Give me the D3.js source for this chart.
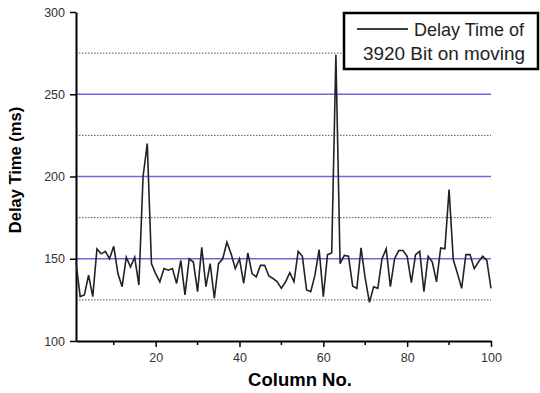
<!DOCTYPE html>
<html>
<head>
<meta charset="utf-8">
<script src="https://cdn.jsdelivr.net/npm/d3@7"></script>
<style>
  body { margin: 0; background: #fff; }
  svg { display: block; font-family: "Liberation Sans", Arial, sans-serif; }
</style>
</head>
<body>
<div id="chart"></div>
<script>
// delay time (ms) for columns 1..100
var delays = [
  148, 127, 128, 140, 127, 156, 153, 154.5, 150, 157.6,
  141, 133, 151, 145, 151, 134, 200, 220, 147, 141,
  136, 144, 143, 144, 135, 149, 128, 150, 148, 130,
  157, 133, 147, 126, 147, 150, 160, 153, 144, 150,
  135, 153.5, 141, 139, 146, 146, 139.5, 138, 136, 132,
  136, 141.5, 136, 154.5, 151.5, 131, 130, 140, 155.5, 127,
  152.5, 153.5, 274, 147, 152, 151.5, 133.5, 132, 156.6, 138,
  123.5, 133, 132, 150, 156, 133, 150, 155, 155, 151.5,
  135.5, 152.5, 154.5, 130, 151.5, 148, 136, 156.6, 156, 192,
  149.4, 141, 132, 152.5, 152.5, 144, 148, 151.5, 149, 132
];
var columns = d3.range(1, delays.length + 1);

var yTicks = [100, 150, 200, 250, 300];
var xTicks = [20, 40, 60, 80, 100];
var xMinor = [10, 30, 50, 70, 90];
var solidGrid = [150, 200, 250];
var dottedGrid = [125, 175, 225, 275];

var legendLines = ["Delay Time of", "3920 Bit on moving"];
var xTitle = "Column No.";
var yTitle = "Delay Time (ms)";

var width = 540, height = 393;
var plotL = 76, plotR = 491, plotT = 12, plotB = 341;

var svg = d3.select("#chart").append("svg")
    .attr("width", width)
    .attr("height", height);

var x = d3.scaleLinear().domain([1, 100]).range([plotL, plotR]);
var y = d3.scaleLinear().domain([100, 300]).range([plotB, plotT]);

// grid lines
svg.append("g").selectAll("line")
    .data(dottedGrid)
    .enter().append("line")
    .attr("x1", plotL).attr("x2", plotR)
    .attr("y1", y).attr("y2", y)
    .attr("stroke", "#555")
    .attr("stroke-width", 1)
    .attr("stroke-dasharray", "1.5,1.5");

svg.append("g").selectAll("line")
    .data(solidGrid)
    .enter().append("line")
    .attr("x1", plotL).attr("x2", plotR)
    .attr("y1", y).attr("y2", y)
    .attr("stroke", "#6a6ae0")
    .attr("stroke-width", 1.3);

// axes
var xAxis = svg.append("g")
    .attr("transform", "translate(0," + plotB + ")")
    .call(d3.axisBottom(x).tickValues(xTicks).tickSize(6).tickSizeOuter(0).tickPadding(6));

svg.append("g")
    .attr("transform", "translate(0," + plotB + ")")
    .selectAll("line")
    .data(xMinor)
    .enter().append("line")
    .attr("x1", x).attr("x2", x)
    .attr("y1", 0).attr("y2", 4)
    .attr("stroke", "#000")
    .attr("stroke-width", 1.5);

var yAxis = svg.append("g")
    .attr("transform", "translate(" + plotL + ",0)")
    .call(d3.axisLeft(y).tickValues(yTicks).tickSize(6).tickSizeOuter(0).tickPadding(5));

[xAxis, yAxis].forEach(function(g) {
    g.select(".domain").attr("stroke", "#000").attr("stroke-width", 2);
    g.selectAll(".tick line").attr("stroke", "#000").attr("stroke-width", 1.5);
    g.selectAll(".tick text")
        .attr("fill", "#333")
        .style("font-size", "12.5px")
        .style("font-family", "'Liberation Sans', Arial, sans-serif");
});

// data line
var line = d3.line()
    .x(function(d, i) { return x(columns[i]); })
    .y(function(d) { return y(d); });

svg.append("path")
    .datum(delays)
    .attr("fill", "none")
    .attr("stroke", "#222")
    .attr("stroke-width", 1.6)
    .attr("stroke-linejoin", "miter")
    .attr("d", line);

// axis titles
svg.append("text")
    .attr("x", 300)
    .attr("y", 386)
    .attr("text-anchor", "middle")
    .style("font-size", "18.5px")
    .style("font-weight", "bold")
    .text(xTitle);

svg.append("text")
    .attr("transform", "translate(21,170) rotate(-90)")
    .attr("text-anchor", "middle")
    .style("font-size", "16.5px")
    .style("font-weight", "bold")
    .text(yTitle);

// legend
var legend = svg.append("g");
legend.append("rect")
    .attr("x", 344).attr("y", 13)
    .attr("width", 194).attr("height", 56)
    .attr("fill", "#fff")
    .attr("stroke", "#000")
    .attr("stroke-width", 2.5);

legend.append("line")
    .attr("x1", 357).attr("x2", 408)
    .attr("y1", 29).attr("y2", 29)
    .attr("stroke", "#000")
    .attr("stroke-width", 1.6);

legend.append("text")
    .attr("x", 414).attr("y", 36)
    .style("font-size", "18.5px")
    .attr("fill", "#222")
    .attr("textLength", 110)
    .attr("lengthAdjust", "spacingAndGlyphs")
    .text(legendLines[0]);

legend.append("text")
    .attr("x", 363).attr("y", 60)
    .style("font-size", "18.5px")
    .attr("fill", "#222")
    .attr("textLength", 162)
    .attr("lengthAdjust", "spacingAndGlyphs")
    .text(legendLines[1]);
</script>
</body>
</html>
